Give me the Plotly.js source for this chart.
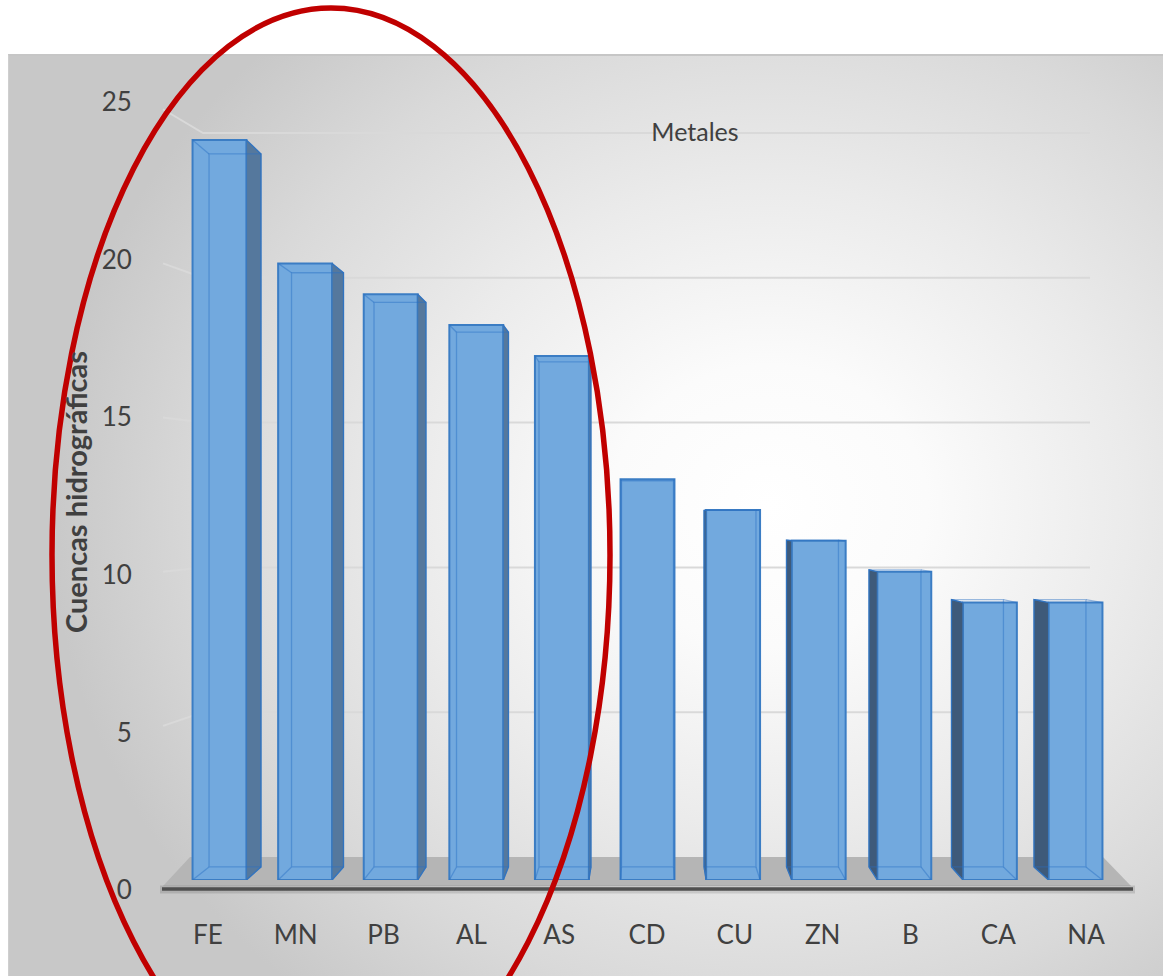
<!DOCTYPE html>
<html><head><meta charset="utf-8">
<script src="https://cdn.plot.ly/plotly-3.0.1.min.js"></script>
<style>
html,body{margin:0;padding:0;background:#fff;}
#wrap{position:relative;width:1163px;height:976px;overflow:hidden;background:#fff;}
#bg{position:absolute;left:8px;top:54px;width:1155px;height:922px;box-sizing:border-box;
 border-top:2px solid #c6c6c6;border-left:1px solid #cfcfcf;
 background:radial-gradient(ellipse 720px 640px at 760px 450px,#ffffff 0%,#fbfbfb 22%,#ebebeb 50%,#d9d9d9 78%,#c8c8c8 100%);}
#chart{position:absolute;left:0;top:0;width:1163px;height:976px;}
</style></head><body>
<div id="wrap"><div id="bg"></div><div id="chart"></div></div>
<script>
// ---- data ----
const categories = ['FE','MN','PB','AL','AS','CD','CU','ZN','B','CA','NA'];
const values = [24,20,19,18,17,13,12,11,10,9,9];
const yTicks = [0,5,10,15,20,25];
const chartTitle = 'Metales';
const yTitle = 'Cuencas hidrográficas';

// ---- geometry (pixels of the 1163x976 page) ----
const W = 1163, H = 976;
const X0 = 219.5, DX = 85.6, Y0 = 880, DY = 30.83;  // front plane of the bars
const VX = 647, VY = 521;                           // perspective centre
const SB = 0.9637;                                  // back face scale
const WALL_Y0 = 857, WALL_DY = 28.96;               // back wall scale
const WALL_XL = 203, WALL_XR = 1090, SIDE_X = 163;  // wall extents
const BW = 0.63;                                    // bar width (category units)
const XR = [-0.7, 10.7], YR = [0, 26];

const px = x => X0 + x * DX, py = y => Y0 - y * DY;
const ix = p => (p - X0) / DX, iy = p => (Y0 - p) / DY;
const back = (x, y) => [ix(VX + (px(x) - VX) * SB), iy(VY + (py(y) - VY) * SB)];
const pxX = p => p / W, pxY = p => 1 - p / H;

const idx = categories.map((c, i) => i);
const traces = [];

// ---- back-wall grid lines (subplot xy, drawn first) ----
const wallVal = p => (WALL_Y0 - p) / WALL_DY;   // pixel -> wall value
{
  const gx = [], gy = [];
  yTicks.filter(v => v > 0).forEach(v => {
    gx.push(ix(SIDE_X), ix(WALL_XL), ix(WALL_XR), null);
    gy.push(wallVal(py(v)), v, v, null);
  });
  traces.push({type:'scatter', mode:'lines', x:gx, y:gy, xaxis:'x', yaxis:'y',
    line:{color:'#d9d9d9', width:2}, hoverinfo:'skip', showlegend:false});
}

// ---- side faces ----
const sideR = {x:[], y:[]}, sideL = {x:[], y:[]};
values.forEach((v, i) => {
  const c = px(i);
  if (Math.abs(c - VX) < 10) return;
  const e = c < VX ? i + BW / 2 : i - BW / 2;
  const t = c < VX ? sideR : sideL;
  const b0 = back(e, 0), b1 = back(e, v);
  t.x.push(e, e, b1[0], b0[0], e, null);
  t.y.push(0, v, b1[1], b0[1], 0, null);
});
[[sideR, '#55789d'], [sideL, '#3e5a7a']].forEach(([s, col]) => {
  traces.push({type:'scatter', mode:'lines', x:s.x, y:s.y, xaxis:'x2', yaxis:'y2',
    fill:'toself', fillcolor:col, line:{color:'#3a78bd', width:1.2},
    hoverinfo:'skip', showlegend:false});
});

// ---- front faces ----
traces.push({type:'bar', x:idx, y:values, width:BW, xaxis:'x2', yaxis:'y2',
  marker:{color:'#72a9de', line:{color:'#3b7dc4', width:2}},
  hovertemplate:'%{customdata}: %{y}<extra></extra>', customdata:categories, showlegend:false});

// ---- back-face wireframe seen through the glass ----
{
  const wx = [], wy = [];
  values.forEach((v, i) => {
    const l = i - BW / 2, r = i + BW / 2;
    const a = back(l, 0), b = back(r, 0), c = back(r, v), d = back(l, v);
    wx.push(a[0], b[0], c[0], d[0], a[0], null);
    wy.push(a[1], b[1], c[1], d[1], a[1], null);
    wx.push(l, a[0], null, r, b[0], null, r, c[0], null, l, d[0], null);
    wy.push(0, a[1], null, 0, b[1], null, v, c[1], null, v, d[1], null);
  });
  traces.push({type:'scatter', mode:'lines', x:wx, y:wy, xaxis:'x2', yaxis:'y2',
    line:{color:'rgba(40,110,195,0.45)', width:1.3}, hoverinfo:'skip', showlegend:false});
}

// ---- label subplot (category and value tick labels) ----
traces.push({type:'scatter', mode:'markers', x:idx, y:values, xaxis:'x3', yaxis:'y3',
  marker:{size:1, opacity:0}, hoverinfo:'skip', showlegend:false});

const font = 'Lato, "Open Sans", sans-serif';
const floorPath = (() => {
  const pts = [[190, 857], [1103, 857], [1131, 886], [163, 886]];
  return 'M' + pts.map(p => pxX(p[0]) + ',' + pxY(p[1])).join(' L') + ' Z';
})();

const layout = {
  width: W, height: H,
  margin: {l:0, r:0, t:0, b:0},
  paper_bgcolor: 'rgba(0,0,0,0)', plot_bgcolor: 'rgba(0,0,0,0)',
  showlegend: false,
  font: {family: font, color: '#404040'},
  title: {text: chartTitle, x: pxX(695), y: pxY(132), xref:'paper', yref:'paper',
    xanchor:'center', yanchor:'middle', font:{family:font, size:25, color:'#404040'}},
  xaxis: {domain:[pxX(px(XR[0])), pxX(px(XR[1]))], range:XR, visible:false, anchor:'y', fixedrange:true},
  yaxis: {domain:[pxY(WALL_Y0), pxY(WALL_Y0 - YR[1] * WALL_DY)], range:YR, visible:false, anchor:'x', fixedrange:true},
  xaxis2: {domain:[pxX(px(XR[0])), pxX(px(XR[1]))], range:XR, visible:false, anchor:'y2', fixedrange:true},
  yaxis2: {domain:[pxY(py(YR[0])), pxY(py(YR[1]))], range:YR, visible:false, anchor:'x2', fixedrange:true},
  xaxis3: {domain:[pxX(164), pxX(1130)], range:[-0.5, categories.length - 0.5], anchor:'y3',
    tickmode:'array', tickvals:idx, ticktext:categories, showgrid:false, zeroline:false, showline:false,
    ticks:'outside', ticklen:22, tickcolor:'rgba(0,0,0,0)',
    tickfont:{family:font, size:26, color:'#404040'}, fixedrange:true},
  yaxis3: {domain:[pxY(890), pxY(102)], range:[0, 25], anchor:'x3',
    tickmode:'array', tickvals:yTicks, ticktext:yTicks.map(String), showgrid:false, zeroline:false, showline:false,
    ticks:'outside', ticklen:26, tickcolor:'rgba(0,0,0,0)',
    tickfont:{family:font, size:26, color:'#404040'}, fixedrange:true},
  annotations: [{text: '<b>' + yTitle + '</b>', textangle: -90, xref:'paper', yref:'paper',
    x: pxX(76), y: pxY(492), xanchor:'center', yanchor:'middle', showarrow:false,
    font:{family:font, size:29, color:'#404040'}}],
  shapes: [
    {type:'path', path: floorPath, xref:'paper', yref:'paper', layer:'below',
      fillcolor:'#b5b5b5', line:{width:0}},
    {type:'line', xref:'paper', yref:'paper', x0:pxX(160), x1:pxX(1135), y0:pxY(889.5), y1:pxY(889.5),
      layer:'below', line:{color:'rgba(0,0,0,0.12)', width:8}},
    {type:'line', xref:'paper', yref:'paper', x0:pxX(162), x1:pxX(1133), y0:pxY(889), y1:pxY(889),
      layer:'below', line:{color:'#4f4f4f', width:3.5}},
    {type:'circle', xref:'paper', yref:'paper', layer:'above',
      x0:pxX(52), x1:pxX(610), y0:pxY(1102), y1:pxY(8),
      line:{color:'#c00000', width:5.5}, fillcolor:'rgba(0,0,0,0)'}
  ]
};

Plotly.newPlot('chart', traces, layout, {displayModeBar:false, staticPlot:false});
</script>
</body></html>
